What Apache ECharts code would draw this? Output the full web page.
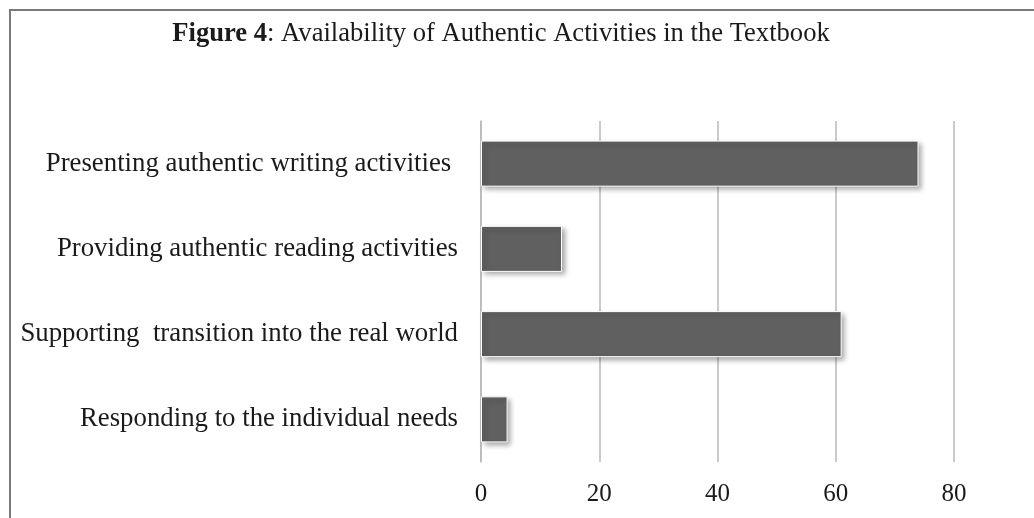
<!DOCTYPE html>
<html><head><meta charset="utf-8">
<script src="https://cdn.jsdelivr.net/npm/echarts@6/dist/echarts.min.js"></script>
<style>html,body{margin:0;padding:0;background:#fff}#c{width:1034px;height:518px}</style>
</head><body><div id="c"></div>
<script>
const categories = [
  "Presenting authentic writing activities ",
  "Providing authentic reading activities",
  "Supporting  transition into the real world",
  "Responding to the individual needs"
];
const values = [74, 13.7, 61, 4.5];
const xTicks = [0, 20, 40, 60, 80];

const chart = echarts.init(document.getElementById('c'));
const serif = '"Liberation Serif", "Times New Roman", serif';
chart.setOption({
  backgroundColor: '#fff',
  animation: false,
  title: {
    text: '{b|Figure 4}: Availability of Authentic Activities in the Textbook',
    left: 496, top: 16, textAlign: 'center',
    textStyle: {
      fontFamily: serif, fontSize: 26.6, fontWeight: 'normal', color: '#1a1a1a',
      rich: { b: { fontFamily: serif, fontSize: 26.6, fontWeight: 'bold', color: '#1a1a1a' } }
    }
  },
  graphic: [{
    type: 'rect', shape: { x: 10, y: 10, width: 1040, height: 520 },
    style: { fill: null, stroke: '#7a7a7a', lineWidth: 2 }, silent: true
  }],
  grid: { left: 481, right: 80, top: 121, bottom: 56, containLabel: false },
  xAxis: {
    type: 'value', min: 0, max: 80, interval: 20,
    axisLine: { show: false }, axisTick: { show: false },
    splitLine: { show: true, lineStyle: { color: '#b8b8b8', width: 1.5 } },
    axisLabel: { fontFamily: serif, fontSize: 25, color: '#1a1a1a', margin: 20,
      formatter: v => xTicks.includes(v) ? String(v) : '' }
  },
  yAxis: {
    type: 'category', data: categories, inverse: true,
    axisLine: { show: true, lineStyle: { color: '#b8b8b8', width: 1.5 } },
    axisTick: { show: false },
    axisLabel: { fontFamily: serif, fontSize: 26.8, color: '#1a1a1a', margin: 23 }
  },
  series: [{
    type: 'bar', data: values, barCategoryGap: '46%',
    itemStyle: { color: '#606060', borderColor: '#ffffff', borderWidth: 1,
      shadowColor: 'rgba(0,0,0,0.35)', shadowBlur: 5, shadowOffsetX: 3, shadowOffsetY: 3 }
  }]
});
</script></body></html>
